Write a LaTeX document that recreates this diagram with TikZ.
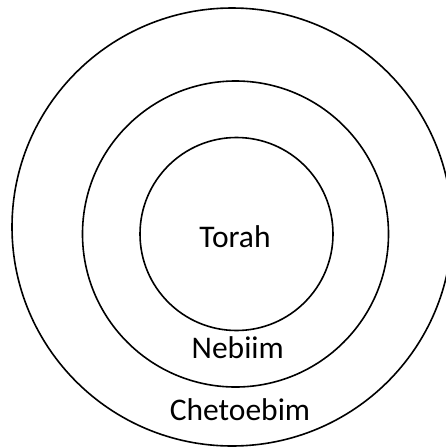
\documentclass[tikz,border=0pt]{standalone}
\usepackage{fontspec}
\setmainfont{Carlito}
\begin{document}
\begin{tikzpicture}[x=1pt,y=-1pt,
  ring/.style={draw=black,line width=1.6pt},
  lbl/.style={font=\fontsize{31.5}{38}\selectfont,anchor=base,inner sep=0pt}]
\useasboundingbox (0,0) rectangle (446,448);
\begin{scope}
\clip (0,0) rectangle (446,448);
\draw[ring] (232,227) ellipse [x radius=220, y radius=219];
\end{scope}
\draw[ring] (235.5,234) circle [radius=153];
\draw[ring] (236.5,234) circle [radius=96.5];
\node[lbl] (torah) at (235,247.3) {Torah};
\node[lbl] (nebiim) at (237.8,358.3) {Nebiim};
\node[lbl] (chet) at (240,420.5) {Chetoebim};
\end{tikzpicture}
\end{document}
